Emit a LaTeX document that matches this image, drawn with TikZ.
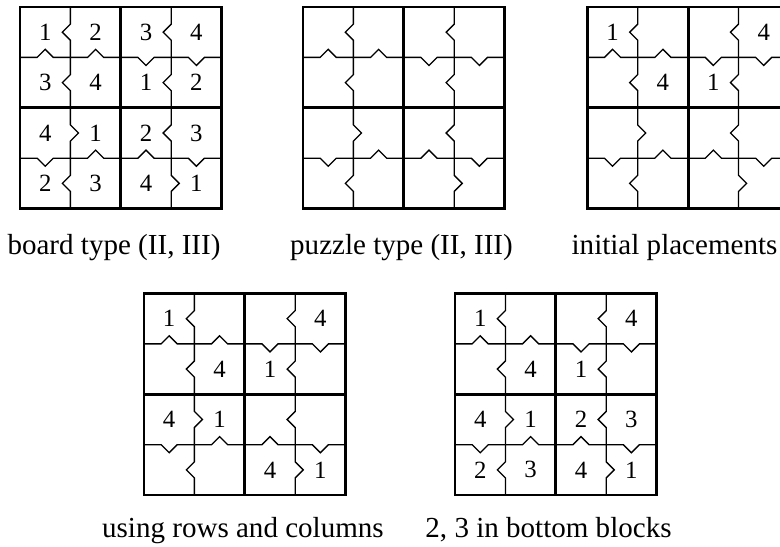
\documentclass[tikz,border=0pt]{standalone}
\usepackage{fontspec}
\setmainfont{Liberation Serif}

\begin{document}
\begin{tikzpicture}[
    thinedge/.style={line width=0.75pt},
    blockedge/.style={line width=1.6pt},
    num/.style={inner sep=0pt, font=\fontsize{14}{16}\selectfont},
    captext/.style={anchor=base, inner sep=0pt, font=\fontsize{16.4}{19}\selectfont},
]
\useasboundingbox (0,0) rectangle (15.476,10.853);
% five grids: notched thin edges inside the blocks (notch points to the smaller value)
\foreach \gx/\gy/\g in {0.397/10.714/1, 6.012/10.714/2, 11.653/10.714/3,
                        2.857/5.030/4, 9.028/5.030/5} {
  \begin{scope}[shift={(\gx,\gy)}, yscale=-1]
    \coordinate (g\g) at (0,0);
    % vertical edges
    \foreach \x/\r/\d in {1/0/-1, 1/1/-1, 1/2/1, 1/3/-1, 3/0/-1, 3/1/-1, 3/2/-1, 3/3/1}
      \draw[thinedge] (\x,\r) -- (\x,\r+0.34) -- (\x+0.16*\d,\r+0.5)
                      -- (\x,\r+0.66) -- (\x,\r+1);
    % horizontal edges
    \foreach \y/\c/\d in {1/0/-1, 1/1/-1, 1/2/1, 1/3/1, 3/0/1, 3/1/-1, 3/2/-1, 3/3/1}
      \draw[thinedge] (\c,\y) -- (\c+0.34,\y) -- (\c+0.5,\y+0.16*\d)
                      -- (\c+0.66,\y) -- (\c+1,\y);
    \draw[blockedge] (0,0) rectangle (4,4) (2,0) -- (2,4) (0,2) -- (4,2);
  \end{scope}
}
% board type: the full solution
\begin{scope}[shift={(g1)}, yscale=-1]
  \foreach \row [count=\r from 0] in {{1,2,3,4},{3,4,1,2},{4,1,2,3},{2,3,4,1}}
    \foreach \v [count=\c from 0] in \row
      \node[num] (a\r\c) at (\c+0.5,\r+0.5) {\v};
\end{scope}
% initial placements
\begin{scope}[shift={(g3)}, yscale=-1]
  \foreach \r/\c/\v in {0/0/1, 0/3/4, 1/1/4, 1/2/1}
    \node[num] (c\r\c) at (\c+0.5,\r+0.5) {\v};
\end{scope}
% using rows and columns
\begin{scope}[shift={(g4)}, yscale=-1]
  \foreach \r/\c/\v in {0/0/1, 0/3/4, 1/1/4, 1/2/1, 2/0/4, 2/1/1, 3/2/4, 3/3/1}
    \node[num] (d\r\c) at (\c+0.5,\r+0.5) {\v};
\end{scope}
% 2, 3 in bottom blocks
\begin{scope}[shift={(g5)}, yscale=-1]
  \foreach \r/\c/\v in {0/0/1, 0/3/4, 1/1/4, 1/2/1, 2/0/4, 2/1/1, 2/2/2, 2/3/3,
                        3/0/2, 3/1/3, 3/2/4, 3/3/1}
    \node[num] (e\r\c) at (\c+0.5,\r+0.5) {\v};
\end{scope}
% captions
\node[captext] (cap1) at (2.262,5.794) {board type (II, III)};
\node[captext] (cap2) at (7.966,5.794) {puzzle type (II, III)};
\node[captext] (cap3) at (13.383,5.794) {initial placements};
\node[captext] (cap4) at (4.820,0.198) {using rows and columns};
\node[captext] (cap5) at (10.883,0.198) {2, 3 in bottom blocks};
\end{tikzpicture}
\end{document}
